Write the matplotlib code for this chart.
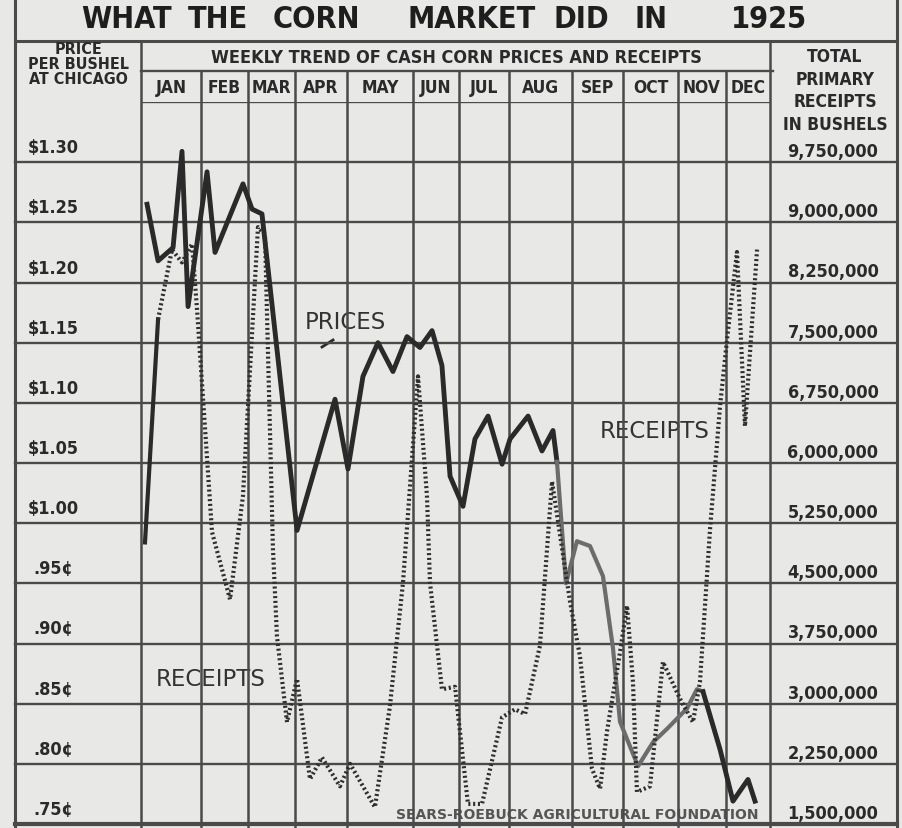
import matplotlib
matplotlib.use("Agg")
import matplotlib.pyplot as plt
import matplotlib.transforms as mtransforms
from matplotlib import font_manager

# weekly data (x = week of 1925, 0..52)
months = ["JAN", "FEB", "MAR", "APR", "MAY", "JUN", "JUL", "AUG", "SEP", "OCT", "NOV", "DEC"]
month_edges = [0, 4.96, 8.85, 12.73, 17.03, 22.49, 26.29, 30.42, 35.63, 39.85, 44.39, 48.36, 52]

price_weeks = [0.5, 1.41, 2.65, 3.39, 3.89, 5.46, 6.12, 8.43, 9.18, 10.0, 12.9, 16.04, 17.11,
               18.35, 19.59, 20.83, 21.99, 23.06, 24.06, 24.88, 25.55, 26.62, 27.61, 28.69,
               29.85, 30.51, 32.0, 33.15, 34.06, 34.39, 35.13, 36.04, 37.12, 38.19, 39.02,
               39.6, 41.09, 42.33, 43.48, 45.14, 45.96, 46.46, 47.87, 48.94, 50.18, 50.76]
prices = [1.265, 1.218, 1.229, 1.309, 1.180, 1.292, 1.225, 1.282, 1.261, 1.257, 0.994, 1.103, 1.045,
          1.122, 1.150, 1.126, 1.155, 1.146, 1.160, 1.131, 1.039, 1.014, 1.070, 1.089,
          1.049, 1.070, 1.089, 1.060, 1.077, 1.051, 0.950, 0.985, 0.981, 0.956, 0.896,
          0.835, 0.798, 0.818, 0.829, 0.846, 0.862, 0.860, 0.812, 0.769, 0.787, 0.769]

receipt_weeks = [0.33, 1.41, 2.56, 3.39, 4.22, 4.63, 5.87, 7.36, 8.43, 9.67, 10.25, 10.91, 11.24,
                 12.07, 12.9, 13.97, 14.96, 16.45, 17.28, 19.34, 20.58, 21.66, 22.9, 23.64,
                 23.89, 24.88, 25.96, 27.03, 28.19, 29.85, 30.92, 31.75, 32.98, 33.98, 35.47,
                 36.29, 37.28, 37.95, 38.52, 39.6, 40.18, 40.67, 41.0, 42.08, 43.15, 44.56,
                 45.63, 46.21, 47.04, 47.87, 48.45, 49.27, 49.93, 50.93]
receipts = [5010000, 7790000, 8660000, 8500000, 8730000, 7920000, 5140000, 4300000, 5590000,
            8940000, 8850000, 4930000, 3840000, 2770000, 3310000, 2060000, 2330000, 1970000,
            2250000, 1710000, 2970000, 4510000, 7080000, 5590000, 4510000, 3180000, 3210000,
            1750000, 1750000, 2830000, 2930000, 2870000, 3720000, 5770000, 4270000, 3590000,
            2190000, 1940000, 2650000, 3640000, 4220000, 3270000, 1900000, 1970000, 3520000,
            3060000, 2770000, 3270000, 5170000, 6710000, 7540000, 8630000, 6460000, 8660000]

price_ticks = [1.30, 1.25, 1.20, 1.15, 1.10, 1.05, 1.00, 0.95, 0.90, 0.85, 0.80, 0.75]
price_labels = ["$1.30", "$1.25", "$1.20", "$1.15", "$1.10", "$1.05", "$1.00",
                ".95¢", ".90¢", ".85¢", ".80¢", ".75¢"]
receipt_ticks = [9750000, 9000000, 8250000, 7500000, 6750000, 6000000,
                 5250000, 4500000, 3750000, 3000000, 2250000, 1500000]

W, H = 902, 829
paper = "#e8e8e6"
ink = "#2a2a2a"
grid = "#4a4a4a"
FAM = "DejaVu Sans"

# a narrow face for the tall newspaper title, if one is around
installed = {f.name for f in font_manager.fontManager.ttflist}
if "Liberation Sans Narrow" in installed:
    title_font = dict(family="Liberation Sans Narrow", fontsize=25)
else:
    title_font = dict(family=FAM, fontstretch="condensed", fontsize=22)

fig = plt.figure(figsize=(W / 100, H / 100), dpi=100, facecolor=paper)

# pixel frame for the table layout
fr = fig.add_axes([0, 0, 1, 1])
fr.set_xlim(0, W)
fr.set_ylim(H, 0)
fr.axis("off")

ax = fig.add_axes([141 / W, 4 / H, 629 / W, 722 / H], zorder=2)
ax.set_facecolor("none")
ax.set_xlim(0, 52)
ax.set_ylim(0.75, 1.35)
ax.set_xticks([])
ax.set_yticks([])
for s in ax.spines.values():
    s.set_visible(False)
ax2 = ax.twinx()
ax2.set_ylim(1500000, 10500000)
ax2.axis("off")

# grid: horizontal rules run through the label columns too
x0 = (15 - 141) / 629
x1 = (897 - 141) / 629
for v in price_ticks:
    ax.axhline(v, xmin=x0, xmax=x1, color=grid, lw=3 if v == 0.75 else 1.7, clip_on=False)
ax.axhline(1.35, color=grid, lw=1.7)
for e in month_edges:
    top = (825 - 72) / 722 if 0 < e < 52 else (825 - 42) / 722
    ax.axvline(e, ymin=-0.01, ymax=top, color=grid, lw=1.8, clip_on=False)

# outer frame and header rules
fr.plot([15, 15], [0, H], color=grid, lw=2.2)
fr.plot([897, 897], [0, H], color=grid, lw=2.2)
fr.plot([15, 897], [42, 42], color=grid, lw=2.2)
fr.plot([141, 773], [72, 72], color=grid, lw=1.7)

# title, word by word to keep the wide spacing
bold = dict(family=FAM, fontstretch="condensed", weight="bold", color=ink)
for word, cx in zip(["WHAT", "THE", "CORN", "MARKET", "DID", "IN", "1925"],
                    [126, 218, 316, 472, 581, 651, 769]):
    fr.text(cx, 19, word, ha="center", va="center", weight="bold", color="#1e1e1e", **title_font)

for i, line in enumerate(["PRICE", "PER BUSHEL", "AT CHICAGO"]):
    fr.text(78, 49 + i * 15, line, ha="center", va="center", fontsize=11.5, **bold)
for i, line in enumerate(["TOTAL", "PRIMARY", "RECEIPTS", "IN BUSHELS"]):
    fr.text(835, 57 + i * 22.5, line, ha="center", va="center", fontsize=12.5, **bold)
fr.text(456, 58, "WEEKLY TREND OF CASH CORN PRICES AND RECEIPTS",
        ha="center", va="center", fontsize=13, **bold)

month_tr = mtransforms.blended_transform_factory(ax.transData, fr.transData)
for i, m in enumerate(months):
    cx = (month_edges[i] + month_edges[i + 1]) / 2
    fr.text(cx, 88, m, transform=month_tr, ha="center", va="center", fontsize=12.5, **bold)

# axis labels sit just above each rule
left_tr = mtransforms.offset_copy(
    mtransforms.blended_transform_factory(fr.transData, ax.transData), fig=fig, y=15, units="dots")
for v, lbl in zip(price_ticks, price_labels):
    fr.text(53, v, lbl, transform=left_tr, ha="center", va="center", fontsize=13, **bold)
right_tr = mtransforms.offset_copy(
    mtransforms.blended_transform_factory(fr.transData, ax2.transData), fig=fig, y=11, units="dots")
for v in receipt_ticks:
    fr.text(833, v, f"{v:,}", transform=right_tr, ha="center", va="center", fontsize=13, **bold)

# the two series
k1 = price_weeks.index(34.39)
k2 = price_weeks.index(46.46)
ax.plot(price_weeks[:k1 + 1], prices[:k1 + 1], color=ink, lw=3.5, zorder=4)
ax.plot(price_weeks[k1:k2 + 1], prices[k1:k2 + 1], color="#6c6c6c", lw=3.0, zorder=4)
ax.plot(price_weeks[k2:], prices[k2:], color=ink, lw=3.5, zorder=4)

ax2.plot(receipt_weeks[:2], receipts[:2], color=ink, lw=3.0, zorder=3)
ax2.plot(receipt_weeks[1:], receipts[1:], color="#2e2e2e", lw=3.0,
         linestyle=(0, (0.5, 0.65)), zorder=3)

# in-chart labels
reg = dict(family=FAM, color="#333333", fontsize=16.5)
fr.text(345, 322, "PRICES", ha="center", va="center", **reg)
fr.plot([322, 333], [348, 341], color=ink, lw=2)
fr.text(211, 680, "RECEIPTS", ha="center", va="center", **reg)
fr.text(655, 432, "RECEIPTS", ha="center", va="center", **reg)
fr.text(577, 815, "SEARS-ROEBUCK AGRICULTURAL FOUNDATION", ha="center", va="center",
        fontsize=10, family=FAM, weight="bold", color="#555555")

fig.savefig("out.png", dpi=100, facecolor=paper)
